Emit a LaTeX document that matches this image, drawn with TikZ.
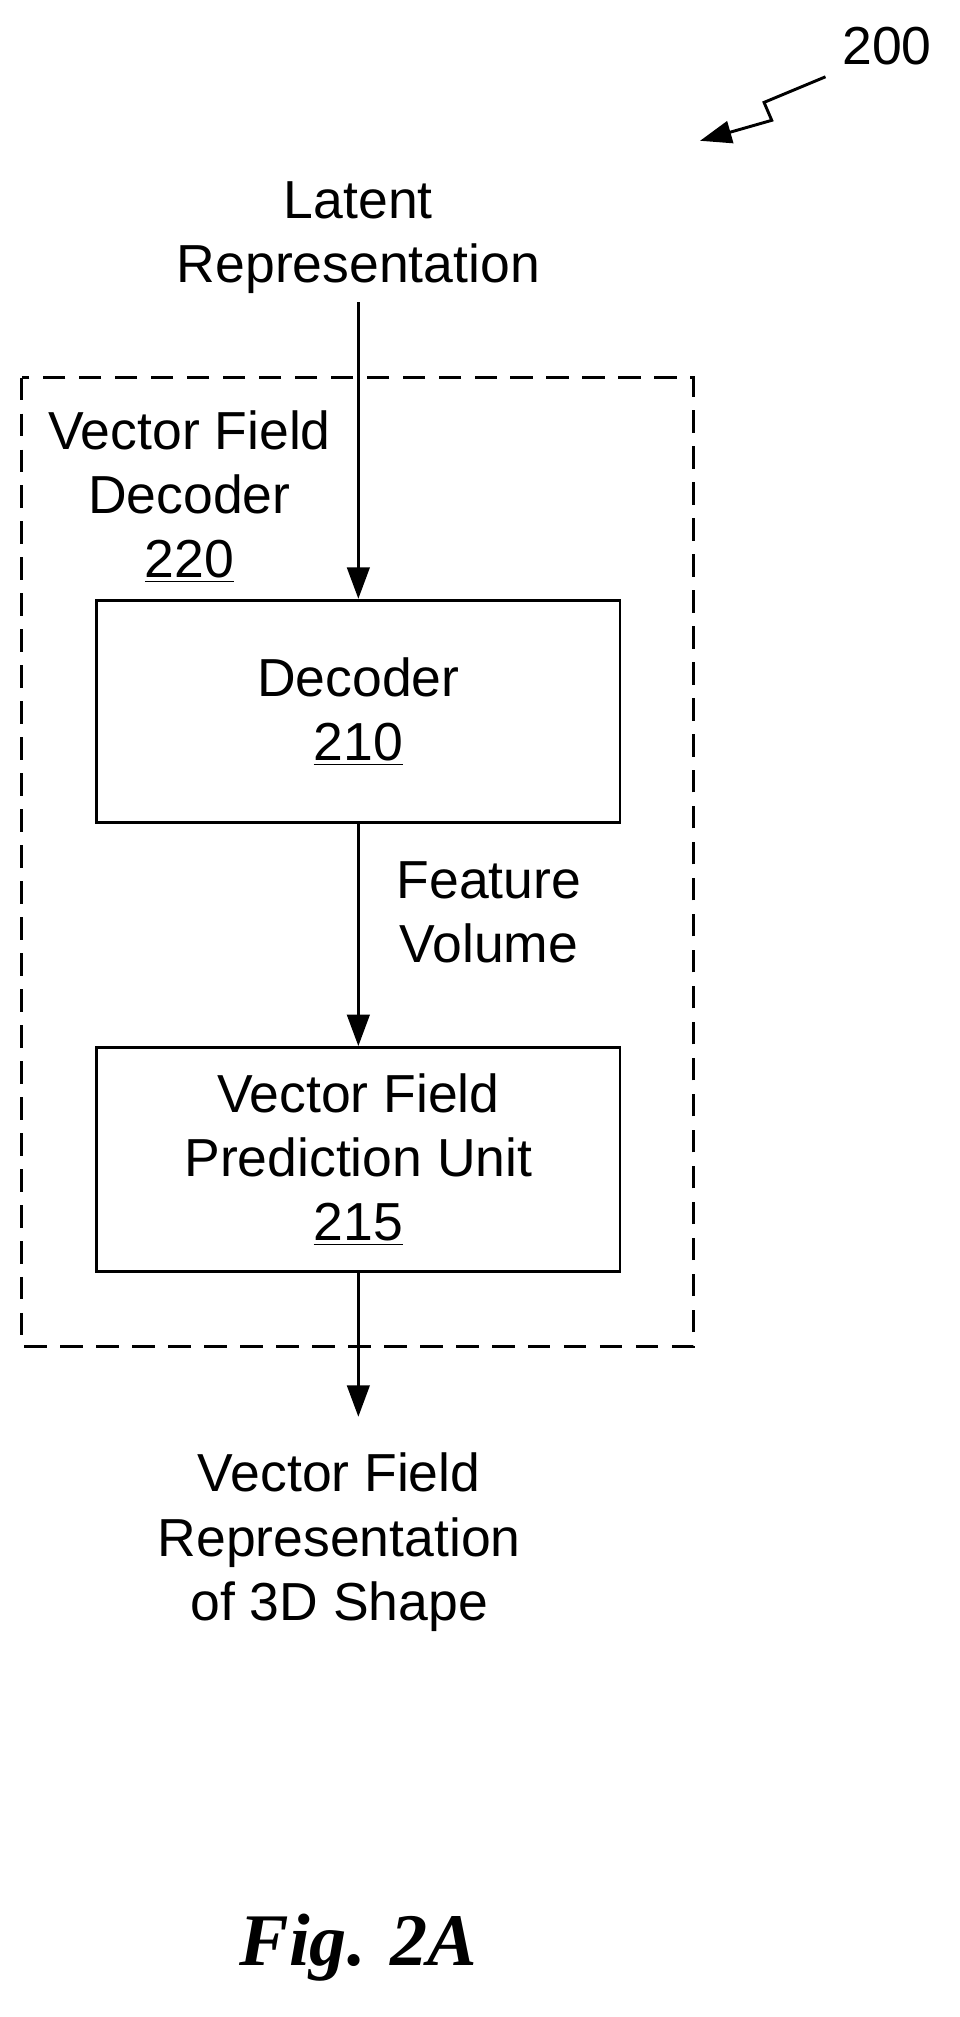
\documentclass[tikz,border=0pt]{standalone}
\usepackage{fontspec}
\setmainfont{Liberation Sans}
\newfontfamily\figfont{Liberation Serif}
\usetikzlibrary{arrows.meta}
\tikzstyle{arrow} = [-{Triangle[length=14pt,width=10pt]},line width=1.3pt]
\tikzstyle{block} = [draw,line width=1.3pt,minimum width=8.18cm,align=center]
\tikzstyle{lbl} = [align=center]
\begin{document}
\begin{tikzpicture}[x=0.02cm,y=-0.02cm,font=\fontsize{23.8}{28.5}\selectfont]
        \useasboundingbox (0,0) rectangle (750,1576);
        \draw[dashed,line width=1.2pt,dash pattern=on 10pt off 6pt] (17,295) rectangle (542,1052);
        \node[block,minimum height=3.48cm] at (280,556) (dec) {Decoder\\\underline{210}};
        \node[block,minimum height=3.5cm] at (280,906) (vfp) {Vector Field\\Prediction Unit\\\underline{215}};
        \node[lbl] at (280,186) (lat) {Latent\\Representation};
        \node[lbl] at (148,388) (vfd) {Vector Field\\Decoder\\\underline{220}};
        \node[lbl] at (382,713) (fv) {Feature\\Volume};
        \node[lbl] at (265,1205) (out) {Vector Field\\Representation\\of 3D Shape};
        \coordinate (outend) at (280,1107);
        \node at (693,36) (num) {200};
        \node at (280,1522) (fig) {\fontsize{33}{38}\selectfont\figfont\bfseries\itshape Fig. 2A};

        \draw[arrow] (lat) -- (dec);
        \draw[arrow] (dec) -- (vfp);
        \draw[arrow] (vfp) -- (outend);
        \draw[line width=1.3pt,-{Triangle[length=14pt,width=10pt]}] (645,60) -- (597,80) -- (603,94) -- (547,110);
\end{tikzpicture}
\end{document}
